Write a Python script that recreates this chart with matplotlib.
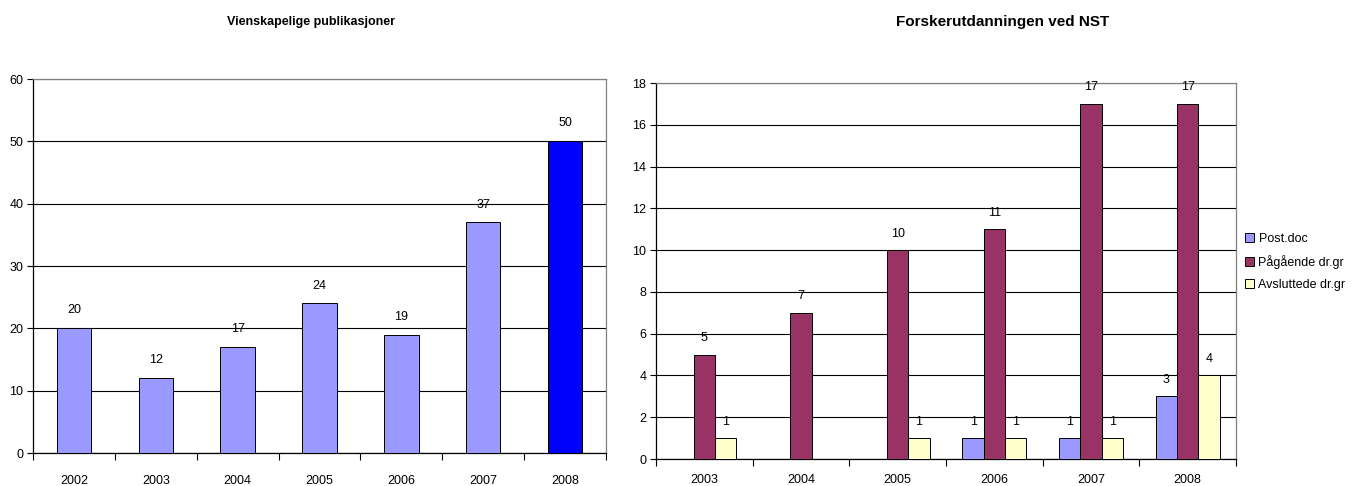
import matplotlib
matplotlib.use("Agg")
import matplotlib.pyplot as plt
import numpy as np

plt.rcParams['font.family'] = ['Liberation Sans', 'DejaVu Sans']

# Left chart data
pub_years = ['2002', '2003', '2004', '2005', '2006', '2007', '2008']
pub_values = [20, 12, 17, 24, 19, 37, 50]

# Right chart data
fo_years = ['2003', '2004', '2005', '2006', '2007', '2008']
postdoc = [0, 0, 0, 1, 1, 3]
pagaende = [5, 7, 10, 11, 17, 17]
avsluttede = [1, 0, 1, 1, 1, 4]
series_names = ['Post.doc', 'Pågående dr.gr', 'Avsluttede dr.gr']

W, H = 1370, 486
fig = plt.figure(figsize=(W/100, H/100), dpi=100)

ax1 = fig.add_axes([33/W, 1-453/H, (606-33)/W, (453-79)/H])
ax2 = fig.add_axes([656/W, 1-459/H, (1236-656)/W, (459-83)/H])

def style(ax, ymax, step, xpad):
    ax.set_ylim(0, ymax)
    ax.set_yticks(np.arange(0, ymax+0.1, step))
    ax.yaxis.grid(True, color='black', linewidth=0.8)
    ax.set_axisbelow(True)
    for s in ['top', 'right']:
        ax.spines[s].set_color('#808080')
        ax.spines[s].set_linewidth(0.9)
    for s in ['left', 'bottom']:
        ax.spines[s].set_color('black')
        ax.spines[s].set_linewidth(0.9)
    ax.tick_params(axis='y', labelsize=9, length=4, width=0.8, pad=3)
    ax.tick_params(axis='x', which='major', length=0, labelsize=9, pad=xpad)
    ax.tick_params(axis='x', which='minor', length=5, width=0.8, direction='out')

# left
x1 = np.arange(len(pub_years))
colors1 = ['#9999FF'] * (len(pub_years) - 1) + ['#0000FF']
ax1.bar(x1, pub_values, width=0.42, color=colors1, edgecolor='black', linewidth=0.7, zorder=3)
ax1.set_xlim(-0.5, len(pub_years) - 0.5)
ax1.set_xticks(x1)
ax1.set_xticklabels(pub_years)
ax1.set_xticks(np.arange(-0.5, len(pub_years), 1), minor=True)
style(ax1, 60, 10, 16)
for xi, v in zip(x1, pub_values):
    ax1.text(xi, v + 1.9, str(v), ha='center', va='bottom', fontsize=9)
fig.text(311/W, 1-22/H, 'Vienskapelige publikasjoner', fontsize=9, fontweight='bold',
         ha='center', va='center')

# right
x2 = np.arange(len(fo_years))
w = 0.22
cols = ['#9999FF', '#993366', '#FFFFCC']
data = [postdoc, pagaende, avsluttede]
for i, (vals, c, nm) in enumerate(zip(data, cols, series_names)):
    xs = x2 + (i - 1) * w
    ax2.bar(xs, vals, width=w, color=c, edgecolor='black', linewidth=0.7, zorder=3, label=nm)
    for xi, v in zip(xs, vals):
        if v:
            ax2.text(xi, v + 0.5, str(v), ha='center', va='bottom', fontsize=9)
ax2.set_xlim(-0.5, len(fo_years) - 0.5)
ax2.set_xticks(x2)
ax2.set_xticklabels(fo_years)
ax2.set_xticks(np.arange(-0.5, len(fo_years), 1), minor=True)
style(ax2, 18, 2, 11)
fig.text(1003/W, 1-22/H, 'Forskerutdanningen ved NST', fontsize=11, fontweight='bold',
         ha='center', va='center')

leg = ax2.legend(loc='center left', bbox_to_anchor=(1.0, 0.524), frameon=False, fontsize=9,
                 handlelength=0.7, handleheight=0.7, handletextpad=0.4, labelspacing=0.8,
                 borderaxespad=0.3)

fig.savefig('out.png', dpi=100)
